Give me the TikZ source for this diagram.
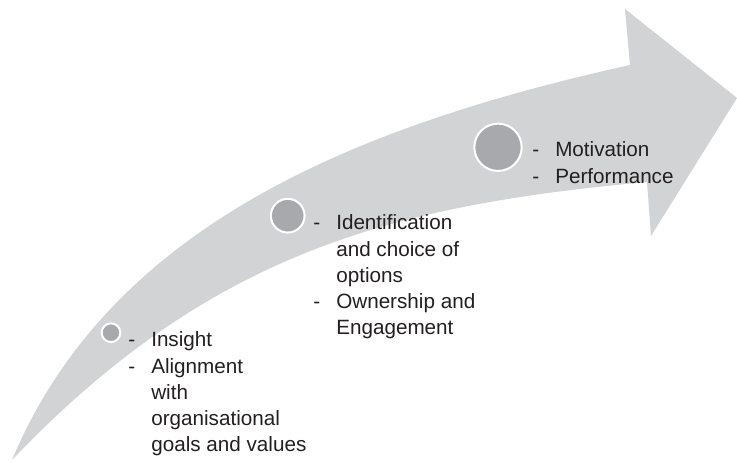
\documentclass[tikz,border=0pt]{standalone}
\usepackage{fontspec}
\setmainfont{Liberation Sans}
\usepackage{tikz}
\usetikzlibrary{positioning}
\definecolor{arrowgray}{RGB}{209,211,212}
\definecolor{dotgray}{RGB}{167,169,172}
\definecolor{textgray}{RGB}{35,31,32}
\newcommand{\itm}{\makebox[0.575cm][l]{-}}
\newcommand{\cnt}{\hspace*{0.575cm}}

\begin{document}
\begin{tikzpicture}[
  dot/.style={circle, fill=dotgray, draw=white, line width=0.05cm, inner sep=0pt},
  items/.style={anchor=base west, inner sep=0pt, text=textgray,
    font=\fontsize{14.7}{18.5}\selectfont}]
  \useasboundingbox (0,0) rectangle (18.425,11.55);
  % curved arrow
  \fill[arrowgray] (0.3,0.05) .. controls (2.775,5.9625) and (9.0,8.425) .. (15.75,9.925)
    -- (15.625,11.325) -- (18.425,9.1) -- (16.275,5.65) -- (16.175,7.0)
    .. controls (9.925,6.425) and (5.3,5.3) .. (0.3,0.05) -- cycle;
  % stages
  \node[dot, minimum size=0.4675cm] (c1) at (2.775,3.2325) {};
  \node[dot, minimum size=0.8425cm] (c2) at (7.1925,6.1575) {};
  \node[dot, minimum size=1.1825cm] (c3) at (12.45,7.8675) {};
  \node[items] (t1) at (3.2,2.875) {\begin{tabular}[t]{@{}l@{}}
    \itm Insight\\
    \itm Alignment\\
    \cnt with\\
    \cnt organisational\\
    \cnt goals and values
  \end{tabular}};
  \node[items] (t2) at (7.825,5.8) {\begin{tabular}[t]{@{}l@{}}
    \itm Identification\\
    \cnt and choice of\\
    \cnt options\\
    \itm Ownership and\\
    \cnt Engagement
  \end{tabular}};
  \node[items] (t3) at (13.3,7.625) {\begin{tabular}[t]{@{}l@{}}
    \itm Motivation\\
    \itm Performance
  \end{tabular}};
\end{tikzpicture}
\end{document}
